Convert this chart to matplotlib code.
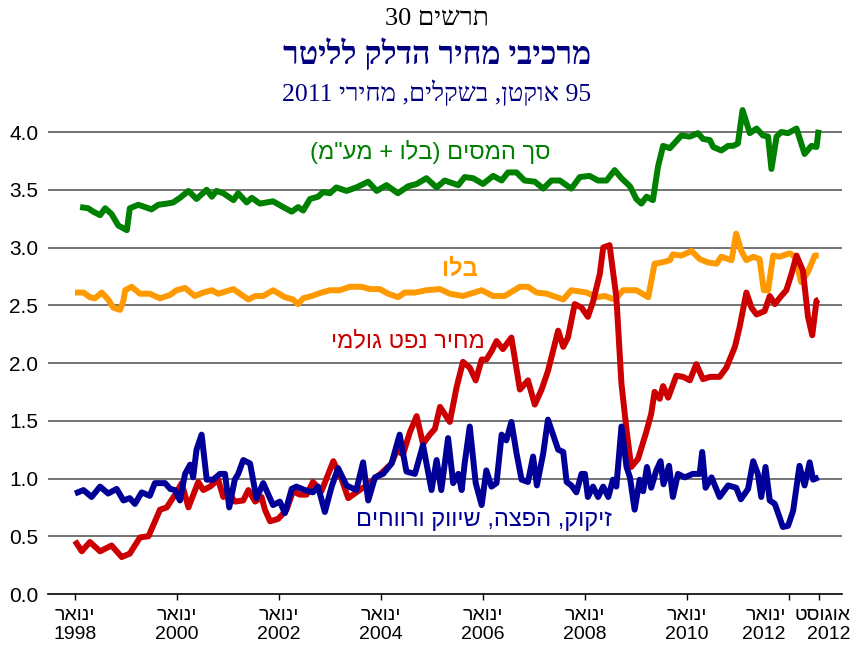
import re
import matplotlib
matplotlib.use('Agg')
import matplotlib.pyplot as plt
import matplotlib.transforms as mtransforms

plt.rcParams['font.family'] = ['Liberation Sans', 'DejaVu Sans']


def rtl(s):
    # matplotlib has no bidi support, so put hebrew text in visual order
    mirror = {'(': ')', ')': '('}
    parts = re.findall(r'\d+|\D+', s)
    out = []
    for p in reversed(parts):
        if p[0].isdigit():
            out.append(p)
        else:
            out.append(''.join(mirror.get(c, c) for c in reversed(p)))
    return ''.join(out)


# months counted from January 1998
tax_m = [1.2, 3.1, 4.3, 5.9, 7.1, 8.6, 10.2, 12.2, 12.9, 14.9, 16.5, 18, 19.6, 21.6, 23.1, 24.7, 26.7, 28.6, 31, 32.2,
         33.3, 34.9, 37.3, 38.4, 40.4, 41.6, 43.5, 46.6, 49, 51, 52.5, 53.7, 55.3, 57.2, 58.4, 60, 61.5, 63.9, 66.2, 69,
         71, 73.3, 76, 78.4, 80.4, 82.7, 85.1, 87, 90.2, 91.7, 93.7, 96, 98.4, 100.4, 101.9, 103.9, 105.8, 108.2, 110.2,
         112.1, 114.1, 116.8, 118.8, 121.1, 123.1, 125.1, 127, 128.6, 130.6, 132.1, 133.3, 134.5, 136, 137.2, 138.4, 140,
         142.7, 144.7, 146.6, 147.8, 149.4, 150.2, 152.1, 153.7, 154.9, 156, 157.1, 158.8, 160.4, 161.9, 163.1, 163.9,
         165.1, 166.2, 167.8, 169.8, 171.7, 173.3, 174.5, 175]
tax_v = [3.35, 3.34, 3.31, 3.28, 3.34, 3.29, 3.19, 3.15, 3.34, 3.37, 3.35, 3.33, 3.37, 3.38, 3.39, 3.43, 3.49, 3.42, 3.50, 3.44,
         3.49, 3.47, 3.41, 3.47, 3.39, 3.43, 3.38, 3.40, 3.35, 3.31, 3.35, 3.32, 3.42, 3.44, 3.48, 3.47, 3.52, 3.49, 3.52, 3.57,
         3.49, 3.54, 3.47, 3.53, 3.55, 3.60, 3.52, 3.58, 3.54, 3.61, 3.60, 3.55, 3.62, 3.58, 3.65, 3.65, 3.58, 3.57, 3.51,
         3.58, 3.58, 3.51, 3.61, 3.62, 3.58, 3.58, 3.67, 3.60, 3.53, 3.42, 3.38, 3.44, 3.41, 3.70, 3.88, 3.86,
         3.97, 3.96, 3.99, 3.94, 3.93, 3.87, 3.84, 3.88, 3.88, 3.90, 4.19, 3.99, 4.03, 3.97, 3.96, 3.68,
         3.96, 4.00, 3.99, 4.03, 3.81, 3.88, 3.87, 4.02]

excise_m = [0, 2, 3.5, 4.7, 6.3, 7.8, 9, 10.6, 11.4, 11.8, 13.3, 15.3, 17.6, 20, 22.4, 23.9, 25.9, 28.2, 30.2, 32.2, 33.7,
            37.3, 38.8, 40.8, 42.4, 44.3, 46.6, 49.4, 51.3, 52.5, 53.7, 55.7, 58, 60, 62.3, 64.7, 67.4, 69.4, 71.7, 73.7,
            76, 77.6, 80, 82.7, 85.9, 88.2, 91.3, 95.7, 98.4, 101.1, 104.7, 106.6, 108.6, 111, 114.9, 116.8, 120.4, 122.7,
            124.7, 127, 129, 132.1, 134.9, 136.4, 138, 140, 140.7, 142.7, 145.1, 147, 149, 151, 152.1, 154.5, 155.6,
            156.8, 158, 159.6, 161.1, 162.1, 163.1, 164.3, 165.8, 168.2, 169.4, 170.9, 172.5, 174.1, 175]
excise_v = [2.61, 2.61, 2.57, 2.56, 2.61, 2.55, 2.48, 2.46, 2.54, 2.63, 2.66, 2.60, 2.60, 2.56, 2.59, 2.63, 2.65, 2.58, 2.61, 2.63, 2.60,
            2.64, 2.60, 2.55, 2.58, 2.58, 2.63, 2.57, 2.55, 2.51, 2.56, 2.58, 2.61, 2.63, 2.63, 2.66, 2.66, 2.64, 2.64, 2.60,
            2.57, 2.61, 2.61, 2.63, 2.64, 2.60, 2.58, 2.63, 2.58, 2.58, 2.66, 2.66, 2.61, 2.60, 2.55, 2.63, 2.61, 2.57,
            2.58, 2.55, 2.63, 2.63, 2.57, 2.86, 2.87, 2.89, 2.94, 2.93, 2.97, 2.90, 2.87, 2.86, 2.92, 2.89, 3.12,
            2.97, 2.89, 2.92, 2.90, 2.63, 2.63, 2.93, 2.92, 2.95, 2.92, 2.70, 2.79, 2.93, 2.93]

crude_m = [0, 1.6, 3.5, 5.9, 8.6, 11, 12.9, 15.3, 17.3, 20, 21.6, 23.9, 25.1, 26.7, 29, 30.2, 31.8, 33.7, 34.9, 36.1,
           37.6, 39.6, 40.8, 42.4, 43.9, 44.7, 45.9, 47.8, 49.8, 51.3, 52.9, 54.5, 56, 58, 60.8, 62.7, 64.3, 66.2, 68.6,
           70.6, 72.5, 74.5, 75.7, 77.2, 78.8, 80.4, 81.9, 83.5, 84.7, 85.9, 88.2, 89.8, 91.3, 92.9, 94.3, 95.7, 96.8,
           98, 99.2, 100.7, 102.7, 104.7, 106.6, 108.2, 109.8, 111.3, 113.7, 114.9, 116, 117.6, 119.2, 120.7, 121.9,
           123.5, 124.3, 125.8, 127.4, 128.6, 129.8, 130.9, 132.5, 134.5, 135.6, 136.4, 137.6, 138.4, 139.6, 141.5,
           143.1, 144.7, 146.2, 147.8, 149.4, 151.7, 153.3, 155.3, 156.4, 158, 159.2, 160.4, 162.3, 163.5, 164.7,
           166.2, 167.4, 168.6, 169.8, 171.3, 172.5, 173.5, 174.5, 175]
crude_v = [0.46, 0.37, 0.45, 0.37, 0.42, 0.32, 0.35, 0.49, 0.50, 0.73, 0.75, 0.88, 0.96, 0.75, 0.97, 0.90, 0.93, 0.99, 0.84, 0.88,
           0.80, 0.81, 0.90, 0.80, 0.84, 0.73, 0.63, 0.65, 0.73, 0.89, 0.86, 0.86, 0.97, 0.89, 1.15, 1.00, 0.83, 0.88, 0.94,
           1.00, 1.06, 1.13, 1.24, 1.21, 1.40, 1.54, 1.30, 1.38, 1.43, 1.62, 1.49, 1.79, 2.01, 1.96, 1.85, 2.03, 2.03,
           2.10, 2.19, 2.12, 2.22, 1.77, 1.85, 1.64, 1.77, 1.93, 2.28, 2.14, 2.22, 2.51, 2.48, 2.40, 2.53,
           2.77, 3.00, 3.02, 2.57, 1.82, 1.42, 1.10, 1.17, 1.41, 1.56, 1.75, 1.69, 1.80, 1.70, 1.89,
           1.88, 1.85, 1.99, 1.86, 1.88, 1.88, 1.96, 2.14, 2.31, 2.61, 2.48, 2.42, 2.45, 2.58, 2.51,
           2.58, 2.63, 2.77, 2.93, 2.80, 2.40, 2.24, 2.54, 2.55]

margin_m = [0, 2, 3.9, 5.9, 7.8, 9.8, 11.4, 12.9, 14.1, 15.7, 17.6, 18.8, 21.2, 22.4, 23.5, 24.7, 25.9, 27.1, 27.8, 28.6,
            29.8, 31, 32.5, 34.1, 35.3, 36.3, 37.6, 38.4, 39.6, 41.2, 42.7, 44.3, 46.6, 48.2, 49.4, 51, 52.1, 54.1, 56,
            57.2, 58.8, 60.4, 61.9, 63.9, 66.2, 67.8, 69, 70.6, 72.5, 74.5, 76.4, 78, 80, 81.9, 83.9, 85.1, 86.2, 87.8,
            89, 90.2, 91, 91.7, 92.9, 94.3, 95.7, 96.8, 98, 99.2, 100.4, 101.5, 102.7, 103.9, 105.1, 106.6, 107.8, 108.7,
            110.2, 111.3, 112.5, 113.7, 114.9, 115.7, 116.8, 118, 119.2, 120, 120.7, 121.9, 123.1, 124.3, 125.5, 126.6,
            127.4, 128.6, 129.8, 130.6, 131.7, 132.9, 133.7, 134.6, 135.6, 136.8, 137.8, 138.5, 139.8, 140.7, 141.9,
            143.5, 145.4, 147, 147.6, 148.4, 149.8, 151.7, 153.7, 155.6, 156.7, 158.4, 159.6, 160.7, 161.5, 162.5,
            163.5, 164.7, 166.6, 167.8, 169, 170.5, 171.7, 172.9, 173.7, 175]
margin_v = [0.87, 0.90, 0.84, 0.93, 0.87, 0.91, 0.81, 0.83, 0.78, 0.88, 0.85, 0.96, 0.96, 0.91, 0.90, 0.81, 1.04, 1.12, 1.01, 1.25,
            1.38, 0.99, 0.99, 1.04, 1.04, 0.75, 0.99, 1.04, 1.16, 1.13, 0.83, 0.96, 0.77, 0.80, 0.70, 0.91, 0.93, 0.90, 0.88,
            0.93, 0.71, 0.93, 1.09, 0.94, 0.90, 1.14, 0.81, 1.01, 1.04, 1.13, 1.38, 1.06, 1.04, 1.29, 0.90, 1.16, 0.90, 1.35,
            0.96, 1.04, 0.90, 1.13, 1.45, 0.96, 0.77, 1.07, 0.93, 0.96, 1.38, 1.33, 1.49, 1.22, 0.99, 0.97, 1.19, 0.94,
            1.22, 1.51, 1.38, 1.25, 1.23, 0.97, 0.94, 0.88, 1.04, 1.04, 0.84, 0.93, 0.84, 0.93, 0.84, 0.99,
            0.93, 1.45, 1.10, 1.01, 0.73, 0.99, 0.89, 1.10, 0.92, 1.07, 1.15, 0.95, 1.11, 0.84, 1.04,
            1.01, 1.04, 1.04, 1.23, 0.92, 1.01, 0.84, 0.94, 0.92, 0.82, 0.91, 1.15, 1.04, 0.84, 1.10,
            0.81, 0.78, 0.58, 0.59, 0.72, 1.11, 0.94, 1.14, 0.99, 1.01]

tick_months = [0, 24, 48, 72, 96, 120, 144, 168, 175]
tick_months_txt = ['ינואר', 'ינואר', 'ינואר', 'ינואר', 'ינואר', 'ינואר', 'ינואר', 'ינואר', 'אוגוסט']
tick_years = ['1998', '2000', '2002', '2004', '2006', '2008', '2010', '2012', '2012']

fig = plt.figure(figsize=(8.59, 6.47), dpi=100)
ax = fig.add_axes([0.0559, 0.0819, 0.9243, 0.7587])

for y in [0.5, 1.0, 1.5, 2.0, 2.5, 3.0, 3.5, 4.0]:
    ax.axhline(y, color='#4d4d4d', lw=1.1, zorder=1)

kw = dict(lw=4.3, solid_joinstyle='round', solid_capstyle='butt', zorder=3)
ax.plot(tax_m, tax_v, color='#008000', **kw)
ax.plot(excise_m, excise_v, color='#ff9900', **kw)
ax.plot(crude_m, crude_v, color='#cc0000', **kw)
ax.plot(margin_m, margin_v, color='#000099', **kw)

ax.text(83.5, 3.83, rtl('סך המסים (בלו + מע"מ)'), color='#008000', fontsize=17, ha='center', va='center')
ax.text(90.6, 2.81, rtl('בלו'), color='#ff9900', fontsize=17, ha='center', va='center', fontweight='bold')
ax.text(78.4, 2.19, rtl('מחיר נפט גולמי'), color='#cc0000', fontsize=17, ha='center', va='center')
ax.text(96.2, 0.64, rtl('זיקוק, הפצה, שיווק ורווחים'), color='#000099', fontsize=17, ha='center', va='center')

ax.set_xlim(-6.35, 180.5)
ax.set_ylim(0, 4.25)
ax.set_yticks([0, 0.5, 1.0, 1.5, 2.0, 2.5, 3.0, 3.5, 4.0])
ax.set_yticklabels(['0.0', '0.5', '1.0', '1.5', '2.0', '2.5', '3.0', '3.5', '4.0'], fontsize=15)
ax.tick_params(axis='y', length=0, pad=7)
ax.tick_params(axis='x', length=4, width=1, pad=5, direction='out')
ax.set_xticks(tick_months)
labels = ax.set_xticklabels([rtl(m) + '\n' + y for m, y in zip(tick_months_txt, tick_years)], fontsize=14)
labels[-2].set_horizontalalignment('right')
labels[-2].set_multialignment('right')
labels[-1].set_multialignment('right')
# nudge the two crowded 2012 labels apart
labels[-2].set_transform(labels[-2].get_transform() +
                         mtransforms.ScaledTranslation(-3 / 100, 0, fig.dpi_scale_trans))
labels[-1].set_transform(labels[-1].get_transform() +
                         mtransforms.ScaledTranslation(4 / 100, 0, fig.dpi_scale_trans))
for side in ['left', 'right', 'top']:
    ax.spines[side].set_visible(False)
ax.spines['bottom'].set_linewidth(1.2)

fig.text(437 / 859, 1 - 18 / 647, rtl('תרשים 30'), fontsize=19, ha='center', va='center',
         family=['Liberation Serif', 'DejaVu Sans'])
fig.text(437 / 859, 1 - 55 / 647, rtl('מרכיבי מחיר הדלק לליטר'), fontsize=23, ha='center', va='center',
         color='#000080', fontweight='bold', family=['Liberation Serif', 'DejaVu Sans'])
fig.text(437 / 859, 1 - 93 / 647, rtl('95 אוקטן, בשקלים, מחירי 2011'), fontsize=18.5, ha='center', va='center',
         color='#000080', family=['Liberation Serif', 'DejaVu Sans'])

fig.savefig('out.png', dpi=100)
